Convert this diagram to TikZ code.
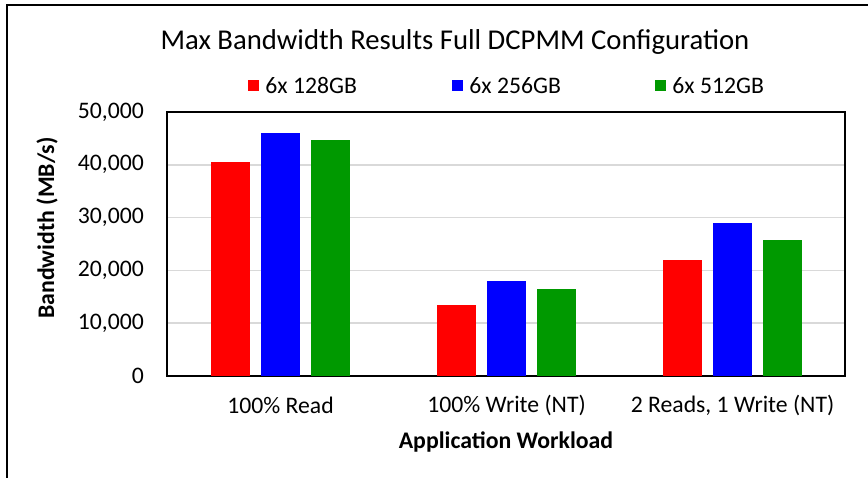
\documentclass[tikz,border=0pt]{standalone}
\usepackage{fontspec}
\setmainfont{Carlito}
\usetikzlibrary{positioning}

\definecolor{barred}{RGB}{255,0,0}
\definecolor{barblue}{RGB}{0,0,255}
\definecolor{bargreen}{RGB}{0,153,0}
\definecolor{gridgray}{RGB}{217,217,217}

\tikzset{
  txt/.style={font=\fontsize{23.7}{28}\selectfont, inner sep=0pt},
  keybox/.style={minimum size=11pt, inner sep=0pt},
}

\begin{document}
\begin{tikzpicture}[x=1pt,y=1pt]
        \useasboundingbox (0,0) rectangle (868,478);
        \draw[line width=1.5pt](7,0)--(7,473)--(868,473);

        % gridlines and y ticks
        \foreach \v/\t in {0/0,1/{10,000},2/{20,000},3/{30,000},4/{40,000},5/{50,000}}{
            \draw[gridgray,line width=1.5pt](167,102+52.8*\v)--(845,102+52.8*\v);
            \node[txt,anchor=east](tick\v) at (144,102+52.8*\v){\t};
        }
        \draw[line width=1.2pt](167,102) rectangle (845,366);
        \draw[line width=1.8pt](167,102)--(845,102);

        % bars
        \fill[barred](211,102) rectangle (250,102+52.8*4.05);
        \fill[barblue](261,102) rectangle (300,102+52.8*4.61);
        \fill[bargreen](311,102) rectangle (350,102+52.8*4.47);

        \fill[barred](437,102) rectangle (476,102+52.8*1.34);
        \fill[barblue](487,102) rectangle (526,102+52.8*1.80);
        \fill[bargreen](537,102) rectangle (576,102+52.8*1.65);

        \fill[barred](663,102) rectangle (702,102+52.8*2.19);
        \fill[barblue](713,102) rectangle (752,102+52.8*2.89);
        \fill[bargreen](763,102) rectangle (802,102+52.8*2.57);

        % category labels
        \node[txt](cat1) at (280.5,73){100\% Read};
        \node[txt](cat2) at (506.5,73){100\% Write (NT)};
        \node[txt](cat3) at (732.5,73){2 Reads, 1 Write (NT)};

        % axis titles
        \node[txt,font=\fontsize{23.8}{28}\selectfont\bfseries](xtitle) at (506,36){Application Workload};
        \node[txt,font=\fontsize{23.8}{28}\selectfont\bfseries,rotate=90](ytitle) at (47,250){Bandwidth (MB/s)};

        % title
        \node[txt,font=\fontsize{28.7}{33}\selectfont](title) at (455,436){Max Bandwidth Results Full DCPMM Configuration};

        % legend
        \node[keybox,fill=barred](key1) at (253.5,392){};
        \node[txt,anchor=west,right=6pt of key1](lab1){6x 128GB};
        \node[keybox,fill=barblue](key2) at (457.5,392){};
        \node[txt,anchor=west,right=6pt of key2](lab2){6x 256GB};
        \node[keybox,fill=bargreen](key3) at (660.5,392){};
        \node[txt,anchor=west,right=6pt of key3](lab3){6x 512GB};
    \end{tikzpicture}
\end{document}
